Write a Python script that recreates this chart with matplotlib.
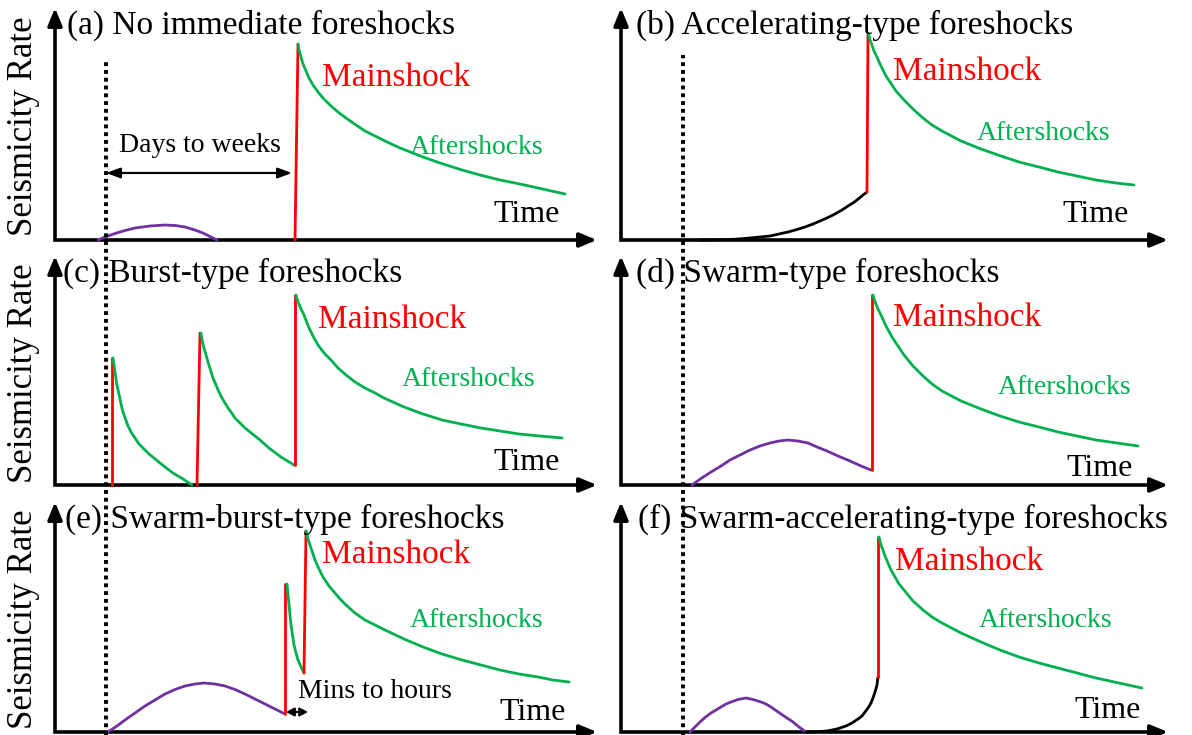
import matplotlib
matplotlib.use("Agg")
import matplotlib.pyplot as plt
from matplotlib.transforms import blended_transform_factory

# ---------------- data (arbitrary time / rate units) ----------------
TITLES = ["(a) No immediate foreshocks", "(b) Accelerating-type foreshocks",
          "(c) Burst-type foreshocks", "(d) Swarm-type foreshocks",
          "(e) Swarm-burst-type foreshocks", "(f) Swarm-accelerating-type foreshocks"]
YLABEL = "Seismicity Rate"
XLABEL = "Time"
MAIN_LABEL = "Mainshock"
AFTER_LABEL = "Aftershocks"
DAYS_LABEL = "Days to weeks"
MINS_LABEL = "Mins to hours"

ONSET_LEFT = 51      # time of the dotted reference line (left column)
ONSET_RIGHT = 62     # time of the dotted reference line (right column)

# (a)
A_SWARM_T = [43, 50, 60, 70, 80, 95, 110, 120, 130, 140, 149, 156, 162]
A_SWARM_R = [0, 3, 6.5, 9.5, 12, 14, 15, 14.5, 13, 10, 6.5, 3, 0]
A_MAIN_T = [240, 243]
A_MAIN_R = [0, 196]
A_AFTER_T = [243, 244, 246, 248, 251, 254, 258, 263, 268, 275, 283, 291, 301, 310,
             320, 330, 345, 368, 385, 407, 425, 445, 465, 483, 510]
A_AFTER_R = [196, 190, 183, 176, 169, 162, 155, 148, 142, 135, 128, 122, 115, 109,
             104, 99, 92, 83, 77, 70, 65, 60, 56, 52, 46]
A_DAYS_T = [51, 237]
A_DAYS_R = 67

# (b)
B_ACCEL_T = [79, 95, 109, 120, 129, 139, 149, 158, 167, 176, 184, 192, 199, 207, 214,
             221, 227, 232, 236, 239, 242, 244, 246]
B_ACCEL_R = [0, 0.2, 0.5, 1.2, 2, 3, 4, 6, 8, 10.5, 13, 16, 19, 22.5, 26,
             30, 34, 37, 40, 42.5, 45, 46.5, 48]
B_MAIN_T = [246, 247]
B_MAIN_R = [48, 205]
B_AFTER_T = [248, 249, 251, 253, 256, 259, 262, 265, 269, 275, 283, 292, 302, 311, 321,
             340, 360, 380, 398, 418, 437, 456, 475, 495, 513]
B_AFTER_R = [205, 200, 195, 189, 183, 176, 170, 164, 158, 149, 140, 131, 122, 115, 109,
             99, 91, 84, 78, 73, 68, 64, 60, 57, 55]

# (c)
C_FORE1_T = [57, 57]
C_FORE1_R = [0, 127]
C_AFTER1_T = [58, 59, 60, 61, 62, 63.5, 65, 66.5, 68, 70.5, 73, 76, 80, 84, 89, 94,
              99, 105, 110, 118, 128, 137]
C_AFTER1_R = [127, 120, 113, 106, 100, 93, 86, 79, 73, 66, 59, 53, 47, 41, 36, 31,
              27, 22, 18, 12, 6, 0]
C_FORE2_T = [142, 145]
C_FORE2_R = [0, 152]
C_AFTER2_T = [146, 147, 149, 151, 153, 155.5, 158, 161, 164, 167, 170, 173, 176, 180,
              185, 190, 195, 200, 205, 214, 226, 239]
C_AFTER2_R = [152, 145, 137, 130, 123, 115, 107, 100, 93, 87, 82, 77, 73, 67,
              62, 57, 53, 49, 45, 37, 28, 20]
C_MAIN_T = [240, 240]
C_MAIN_R = [20, 190]
C_AFTER3_T = [241, 242, 244, 246, 249, 252, 255, 259, 263, 269, 276, 283, 291, 300,
              310, 320, 329, 349, 368, 387, 406, 426, 445, 464, 485, 507]
C_AFTER3_R = [190, 186, 181, 176, 170, 162, 155, 147, 140, 132, 125, 117, 110, 103,
              97, 92, 87, 78, 71, 65, 61, 57, 54, 51, 49, 47]

# (d)
D_SWARM_T = [71, 80, 90, 100, 109, 119, 129, 139, 149, 158, 167, 177, 187, 196, 206,
             217, 229, 240, 250]
D_SWARM_R = [0, 6.5, 13, 19, 25, 30, 35, 39, 42, 44, 45, 44, 42, 38, 34,
             29, 24, 19, 15]
D_MAIN_T = [251, 251]
D_MAIN_R = [15, 190]
D_AFTER_T = [252, 253, 255, 257, 260, 262.5, 265, 268, 271, 277, 283, 292, 302, 311,
             321, 340, 360, 379, 398, 418, 437, 456, 475, 496, 517]
D_AFTER_R = [190, 186, 181, 176, 170, 164.5, 159, 153.5, 148, 139, 130, 119, 109, 101,
             94, 84, 76, 69, 63, 58, 53, 49, 45, 42, 39]

# (e)
E_SWARM_T = [53, 62, 70, 80, 90, 100, 110, 120, 130, 140, 149, 160, 170, 180, 190,
             200, 210, 220, 230]
E_SWARM_R = [0, 6, 12, 19, 26, 32, 38, 42.5, 46, 48, 49, 48, 46, 42.5, 38,
             33, 28, 23, 18]
E_FORE_T = [230, 230]
E_FORE_R = [18, 148]
E_AFTER1_T = [232, 233, 234, 235, 236, 237.5, 239, 241, 243, 246, 249]
E_AFTER1_R = [148, 137, 127, 117, 107, 97, 87, 79, 72, 65, 59]
E_MAIN_T = [249, 251]
E_MAIN_R = [59, 201]
E_AFTER2_T = [251, 252, 253, 255, 257, 260, 264, 268, 274, 280, 285, 291, 300, 310,
              320, 330, 349, 368, 387, 407, 426, 445, 464, 483, 498, 514]
E_AFTER2_R = [201, 197, 193, 187, 181, 172, 163, 155, 146, 139, 133, 127, 119, 112,
              107, 102, 93, 85, 78, 72, 67, 62, 58, 55, 52, 50]
E_MINS_T = [231, 253]
E_MINS_R = 20

# (f)
F_SWARM_T = [69, 74, 79, 84, 90, 95, 100, 105, 110, 117, 125, 132, 140, 145, 150,
             155, 160, 166, 172, 178, 185]
F_SWARM_R = [0, 5, 10, 14.5, 19, 22, 25, 28, 30, 32.5, 34, 32.5, 30, 28, 25,
             21.5, 18, 14, 10, 5, 0]
F_ACCEL_T = [185, 196, 206, 216, 225, 231, 237, 241, 244, 247, 250, 252, 254, 256, 257]
F_ACCEL_R = [0, 0.3, 1, 3, 6, 9, 13, 16, 20, 24, 29, 34, 40, 47, 55]
F_MAIN_T = [257, 257]
F_MAIN_R = [55, 195]
F_AFTER_T = [258, 259, 260, 262, 264, 267, 270, 274, 278, 283, 292, 302, 311, 321,
             340, 360, 379, 398, 418, 437, 456, 475, 498, 521]
F_AFTER_R = [195, 191, 187, 182, 176, 169, 162, 155, 148, 142, 131, 122, 115, 109,
             99, 90, 82, 75, 69, 64, 59, 54, 49, 44]

# ---------------- styling / layout ----------------
RED = "#FF0000"
GREEN = "#00B050"
PURPLE = "#7030A0"
BLACK = "#000000"
FONT = ["Liberation Serif", "DejaVu Serif"]
plt.rcParams["font.family"] = FONT

FIG_W, FIG_H = 1192, 735
COLS = [(55, 597), (621, 1168)]            # pixel x of y-axis and arrow tip
ROWS = [(8, 240), (256, 485), (502, 732)]  # pixel y of arrow top and x-axis

fig = plt.figure(figsize=(FIG_W / 100, FIG_H / 100), dpi=100)


def make_axes(col, row):
    x0, x1 = COLS[col]
    y0, y1 = ROWS[row]
    W, H = x1 - x0, y1 - y0
    ax = fig.add_axes([x0 / FIG_W, 1 - y1 / FIG_H, W / FIG_W, H / FIG_H])
    ax.set_xlim(0, W)
    ax.set_ylim(0, H)
    ax.axis("off")
    # L-shaped axes
    ax.plot([0, 0, W - 8], [H - 8, 0, 0], color=BLACK, lw=2.6,
            solid_joinstyle="miter", solid_capstyle="butt", clip_on=False)
    # arrow heads
    for xy, xyt in [((W, 0), (W - 20, 0)), ((0, H), (0, H - 20))]:
        ax.annotate("", xy=xy, xytext=xyt, xycoords="data",
                    arrowprops=dict(arrowstyle="-|>,head_length=0.8,head_width=0.33",
                                    lw=2.6, color=BLACK, shrinkA=0, shrinkB=0,
                                    mutation_scale=13), annotation_clip=False)
    return ax, W, H


def curve(ax, t, r, color):
    ax.plot(t, r, color=color, lw=2.0, solid_capstyle="round",
            solid_joinstyle="round", clip_on=False)


def labels(ax, col, H, title, tx_title, main_xy, after_xy, time_xy):
    ax.text(tx_title, H - 17, title, fontsize=24, ha="left", va="center")
    ax.text(*main_xy, MAIN_LABEL, fontsize=24, color=RED, ha="center", va="center")
    ax.text(*after_xy, AFTER_LABEL, fontsize=20, color=GREEN, ha="center", va="center")
    ax.text(*time_xy, XLABEL, fontsize=23, ha="center", va="center")
    if col == 0:
        ax.text(-31, H * 0.49, YLABEL, fontsize=25, rotation=90, ha="center", va="center")


def double_arrow(ax, t, r, scale, hl=0.6):
    ax.annotate("", xy=(t[1], r), xytext=(t[0], r),
                arrowprops=dict(arrowstyle=f"<|-|>,head_length={hl},head_width=0.22",
                                lw=1.6, color=BLACK, shrinkA=0, shrinkB=0,
                                mutation_scale=scale))


# (a)
ax_a, W, H = make_axes(0, 0)
curve(ax_a, A_SWARM_T, A_SWARM_R, PURPLE)
curve(ax_a, A_MAIN_T, A_MAIN_R, RED)
curve(ax_a, A_AFTER_T, A_AFTER_R, GREEN)
double_arrow(ax_a, A_DAYS_T, A_DAYS_R, 14)
ax_a.text(145, 95, DAYS_LABEL, fontsize=20, ha="center", va="center")
labels(ax_a, 0, H, TITLES[0], 12, (341, 162), (422, 93), (472, 25))

# (b)
ax_b, W, H = make_axes(1, 0)
curve(ax_b, B_ACCEL_T, B_ACCEL_R, BLACK)
curve(ax_b, B_MAIN_T, B_MAIN_R, RED)
curve(ax_b, B_AFTER_T, B_AFTER_R, GREEN)
labels(ax_b, 1, H, TITLES[1], 15, (346, 168), (423, 107), (475, 25))

# (c)
ax_c, W, H = make_axes(0, 1)
curve(ax_c, C_FORE1_T, C_FORE1_R, RED)
curve(ax_c, C_AFTER1_T, C_AFTER1_R, GREEN)
curve(ax_c, C_FORE2_T, C_FORE2_R, RED)
curve(ax_c, C_AFTER2_T, C_AFTER2_R, GREEN)
curve(ax_c, C_MAIN_T, C_MAIN_R, RED)
curve(ax_c, C_AFTER3_T, C_AFTER3_R, GREEN)
labels(ax_c, 0, H, TITLES[2], 8, (337, 165), (414, 105), (472, 22))

# (d)
ax_d, W, H = make_axes(1, 1)
curve(ax_d, D_SWARM_T, D_SWARM_R, PURPLE)
curve(ax_d, D_MAIN_T, D_MAIN_R, RED)
curve(ax_d, D_AFTER_T, D_AFTER_R, GREEN)
labels(ax_d, 1, H, TITLES[3], 15, (346, 167), (444, 97), (479, 17))

# (e)
ax_e, W, H = make_axes(0, 2)
curve(ax_e, E_SWARM_T, E_SWARM_R, PURPLE)
curve(ax_e, E_FORE_T, E_FORE_R, RED)
curve(ax_e, E_AFTER1_T, E_AFTER1_R, GREEN)
curve(ax_e, E_MAIN_T, E_MAIN_R, RED)
curve(ax_e, E_AFTER2_T, E_AFTER2_R, GREEN)
double_arrow(ax_e, E_MINS_T, E_MINS_R, 11, hl=0.42)
ax_e.text(320, 40, MINS_LABEL, fontsize=20, ha="center", va="center")
labels(ax_e, 0, H, TITLES[4], 10, (341, 177), (422, 111), (478, 20))

# (f)
ax_f, W, H = make_axes(1, 2)
curve(ax_f, F_SWARM_T, F_SWARM_R, PURPLE)
curve(ax_f, F_ACCEL_T, F_ACCEL_R, BLACK)
curve(ax_f, F_MAIN_T, F_MAIN_R, RED)
curve(ax_f, F_AFTER_T, F_AFTER_R, GREEN)
labels(ax_f, 1, H, TITLES[5], 17, (348, 170), (425, 111), (487, 22))

# dotted onset lines spanning all rows
for ax_ref, t_on, top_px in [(ax_a, ONSET_LEFT, 59), (ax_b, ONSET_RIGHT, 55)]:
    tr = blended_transform_factory(ax_ref.transData, fig.transFigure)
    fig.add_artist(plt.Line2D([t_on, t_on], [0, 1 - top_px / FIG_H], transform=tr,
                              color=BLACK, lw=2.8, linestyle=(0, (1, 1)),
                              dash_capstyle="butt"))

fig.savefig("out.png", dpi=100)
